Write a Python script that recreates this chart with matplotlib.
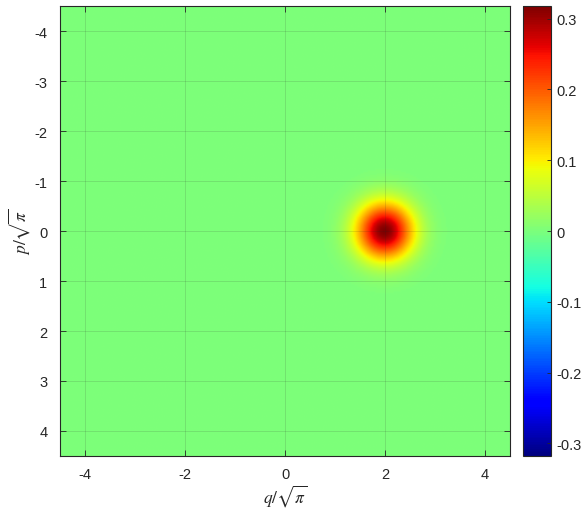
import numpy as np
import matplotlib
matplotlib.use("Agg")
import matplotlib.pyplot as plt

# --- data ---
q_center = 2.0          # peak position along q/sqrt(pi)
p_center = 0.0          # peak position along p/sqrt(pi)
peak_value = 0.318      # maximum of the Wigner function (~1/pi)
color_limit = 0.318     # symmetric colour range
axis_range = [-4.5, 4.5]
q_ticks = [-4, -2, 0, 2, 4]
p_ticks = [-4, -3, -2, -1, 0, 1, 2, 3, 4]
cbar_ticks = [-0.3, -0.2, -0.1, 0, 0.1, 0.2, 0.3]
cbar_labels = ["-0.3", "-0.2", "-0.1", "0", "0.1", "0.2", "0.3"]

# Wigner function of a coherent state on a grid
q = np.linspace(axis_range[0], axis_range[1], 301)
p = np.linspace(axis_range[0], axis_range[1], 301)
Q, P = np.meshgrid(q, p)
W = peak_value * np.exp(-np.pi * ((Q - q_center) ** 2 + (P - p_center) ** 2))

plt.rcParams["font.family"] = ["Liberation Sans", "DejaVu Sans"]
plt.rcParams["mathtext.fontset"] = "stix"

fig = plt.figure(figsize=(5.88, 5.10), dpi=100)
ax = fig.add_axes([60 / 588, 1 - 457 / 510, 450 / 588, 450 / 510])
cax = fig.add_axes([523 / 588, 1 - 457 / 510, 28 / 588, 450 / 510])

im = ax.imshow(W, extent=[axis_range[0], axis_range[1], axis_range[1], axis_range[0]],
               cmap="jet", vmin=-color_limit, vmax=color_limit,
               interpolation="bilinear", aspect="auto")
ax.set_xlim(axis_range)
ax.set_ylim(axis_range[1], axis_range[0])
ax.set_xticks(q_ticks)
ax.set_xticklabels([str(t) for t in q_ticks])
ax.set_yticks(p_ticks)
ax.set_yticklabels([str(t) for t in p_ticks])
ax.grid(True, color="#262626", alpha=0.15, linewidth=0.6)
ax.tick_params(direction="in", length=4, width=0.6, labelsize=10.5,
               colors="#262626", top=True, right=True, pad=9)
ax.tick_params(axis="x", pad=8)
for s in ax.spines.values():
    s.set_color("#262626")
    s.set_linewidth(0.8)
ax.set_xlabel(r"$q/\sqrt{\pi}$", fontsize=12.5, color="#262626", labelpad=1)
ax.set_ylabel(r"$p/\sqrt{\pi}$", fontsize=12.5, color="#262626", labelpad=2)

cb = fig.colorbar(im, cax=cax)
cb.set_ticks(cbar_ticks)
cb.set_ticklabels(cbar_labels)
cb.ax.tick_params(direction="in", length=3, width=0.6, labelsize=10.5,
                  colors="#262626", pad=4)
cb.outline.set_edgecolor("#262626")
cb.outline.set_linewidth(0.8)

fig.savefig("out.png", dpi=100)
